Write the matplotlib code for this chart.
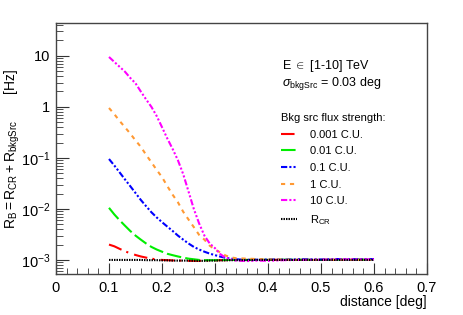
import math
import matplotlib
matplotlib.use("Agg")
import matplotlib.pyplot as plt
from matplotlib.ticker import MultipleLocator, LogLocator, FixedLocator, FuncFormatter, NullFormatter

plt.rcParams['font.family'] = ['Liberation Sans', 'DejaVu Sans']
plt.rcParams['mathtext.fontset'] = 'custom'
plt.rcParams['mathtext.rm'] = 'Liberation Sans'
plt.rcParams['mathtext.it'] = 'Liberation Sans:italic'
plt.rcParams['mathtext.sf'] = 'Liberation Sans'

# distance [deg]
distance = [0.10, 0.11, 0.12, 0.13, 0.14, 0.15, 0.16, 0.17, 0.18, 0.19,
            0.20, 0.21, 0.22, 0.23, 0.24, 0.25, 0.26, 0.27, 0.28, 0.29,
            0.30, 0.31, 0.32, 0.33, 0.34, 0.36, 0.38, 0.40, 0.43, 0.46,
            0.50, 0.53, 0.56, 0.60]

# background rate [Hz] per source strength
rate_0001 = [0.00200, 0.00185, 0.00165, 0.00148, 0.00135, 0.00125, 0.00117, 0.00111, 0.00106, 0.00102,
             0.00100, 0.00099, 0.00098, 0.00097, 0.00097, 0.00096, 0.00096, 0.00096, 0.00097, 0.00097,
             0.00098, 0.00099, 0.00099, 0.00100, 0.00100, 0.00100, 0.00101, 0.00100, 0.00101, 0.00100,
             0.00101, 0.00100, 0.00101, 0.00101]
rate_001 = [0.0105, 0.0078, 0.0060, 0.0047, 0.0037, 0.0030, 0.0025, 0.0021, 0.0018, 0.0016,
            0.00145, 0.00132, 0.00124, 0.00117, 0.00111, 0.00106, 0.00103, 0.00100, 0.00099, 0.00099,
            0.00099, 0.00099, 0.00100, 0.00100, 0.00100, 0.00100, 0.00101, 0.00100, 0.00101, 0.00101,
            0.00100, 0.00101, 0.00102, 0.00101]
rate_01 = [0.095, 0.071, 0.052, 0.038, 0.028, 0.0205, 0.0150, 0.0113, 0.0086, 0.0068,
           0.0055, 0.0045, 0.0037, 0.0030, 0.0025, 0.0021, 0.0018, 0.0016, 0.00145, 0.00133,
           0.00124, 0.00116, 0.00110, 0.00106, 0.00103, 0.00100, 0.00101, 0.00102, 0.00101, 0.00103,
           0.00102, 0.00104, 0.00103, 0.00104]
rate_1 = [0.95, 0.72, 0.53, 0.40, 0.30, 0.22, 0.165, 0.115, 0.082, 0.058,
          0.042, 0.028, 0.019, 0.0135, 0.0088, 0.0062, 0.0044, 0.0031, 0.0025, 0.0019,
          0.0016, 0.0014, 0.00122, 0.00112, 0.00108, 0.00106, 0.00104, 0.00102, 0.00101, 0.00100,
          0.00100, 0.00101, 0.00100, 0.00100]
rate_10 = [9.5, 7.6, 6.1, 4.9, 3.7, 2.9, 2.0, 1.4, 1.0, 0.66,
           0.40, 0.24, 0.15, 0.090, 0.048, 0.022, 0.010, 0.0052, 0.0030, 0.0021,
           0.0017, 0.0013, 0.00110, 0.00102, 0.00097, 0.00095, 0.00097, 0.00096, 0.00099, 0.00100,
           0.00101, 0.00102, 0.00103, 0.00102]
rate_cr = [0.00100, 0.00100, 0.00100, 0.00100, 0.00100, 0.00100, 0.00100, 0.00099, 0.00099, 0.00099,
           0.00098, 0.00098, 0.00097, 0.00097, 0.00097, 0.00097, 0.00096, 0.00096, 0.00096, 0.00097,
           0.00097, 0.00098, 0.00098, 0.00099, 0.00099, 0.00099, 0.00100, 0.00100, 0.00100, 0.00100,
           0.00100, 0.00100, 0.00100, 0.00100]

labels = ["0.001 C.U.", "0.01 C.U.", "0.1 C.U.", "1 C.U.", "10 C.U.", r"$\mathrm{R_{CR}}$"]
colors = ["#ff0000", "#00ee00", "#0000ff", "#ff9933", "#ff00ff", "#000000"]
dashes = [(6.5, 2.5, 1, 3), (7, 2), (3, 1, 1, 1, 1, 1), (2, 2.3),
          (3, 1, 1, 1, 1, 1, 1, 1), (0.7, 0.5)]
series = [rate_0001, rate_001, rate_01, rate_1, rate_10, rate_cr]

fig = plt.figure(figsize=(4.63, 3.15), dpi=100)
ax = fig.add_axes([56 / 463, 41 / 315, 371 / 463, 251 / 315])

for y, c, d, lab in zip(series, colors, dashes, labels):
    ax.plot(distance, y, color=c, lw=1.5, dashes=d, label=lab)

ax.set_xlim(0, 0.7)
ax.set_yscale('log')
ax.set_ylim(5.3e-4, 44)

ax.xaxis.set_major_locator(MultipleLocator(0.1))
ax.xaxis.set_minor_locator(MultipleLocator(0.02))
ax.yaxis.set_major_locator(FixedLocator([1e-3, 1e-2, 1e-1, 1, 10]))
ax.yaxis.set_minor_locator(LogLocator(base=10, subs=range(2, 10), numticks=20))
ax.yaxis.set_minor_formatter(NullFormatter())


def ylab(v, pos):
    if v >= 1:
        return "%d" % round(v)
    return r"$\mathrm{10^{%d}}$" % int(round(math.log10(v)))


ax.yaxis.set_major_formatter(FuncFormatter(ylab))
ax.xaxis.set_major_formatter(FuncFormatter(lambda v, p: "0" if abs(v) < 1e-9 else "%.1f" % v))

ax.tick_params(which='both', direction='in', top=False, right=False, labelsize=10.5, color='#333333')
ax.tick_params(axis='y', which='major', length=9, pad=4)
ax.tick_params(axis='y', which='minor', length=5)
ax.tick_params(axis='x', which='major', length=8, pad=5)
ax.tick_params(axis='x', which='minor', length=4)
for s in ax.spines.values():
    s.set_color('#444444')
    s.set_linewidth(1.0)

ax.set_xlabel("distance [deg]", fontsize=10, ha='right', va='center')
ax.xaxis.set_label_coords(1.0, -28 / 251)
ax.set_ylabel(r"$\mathrm{R_B = R_{CR} + R_{bkgSrc}}$       [Hz]", fontsize=10, va='center')
ax.yaxis.set_label_coords(-44 / 371, 0.5)

fig.text(282 / 463, 1 - 66 / 315, r"E $\in$ [1-10] TeV", fontsize=9, va='center')
fig.text(282 / 463, 1 - 84 / 315, r"$\sigma_{\mathrm{bkgSrc}}$ = 0.03 deg", fontsize=9, va='center')

leg = ax.legend(loc='upper left', bbox_to_anchor=(281 / 463, 1 - 113 / 315),
                bbox_transform=fig.transFigure, frameon=False, fontsize=8,
                title="Bkg src flux strength:", title_fontsize=8, alignment='left',
                handlelength=1.45, handletextpad=1.15, labelspacing=0.6,
                borderpad=0, borderaxespad=0)

fig.savefig("out.png", dpi=100)
